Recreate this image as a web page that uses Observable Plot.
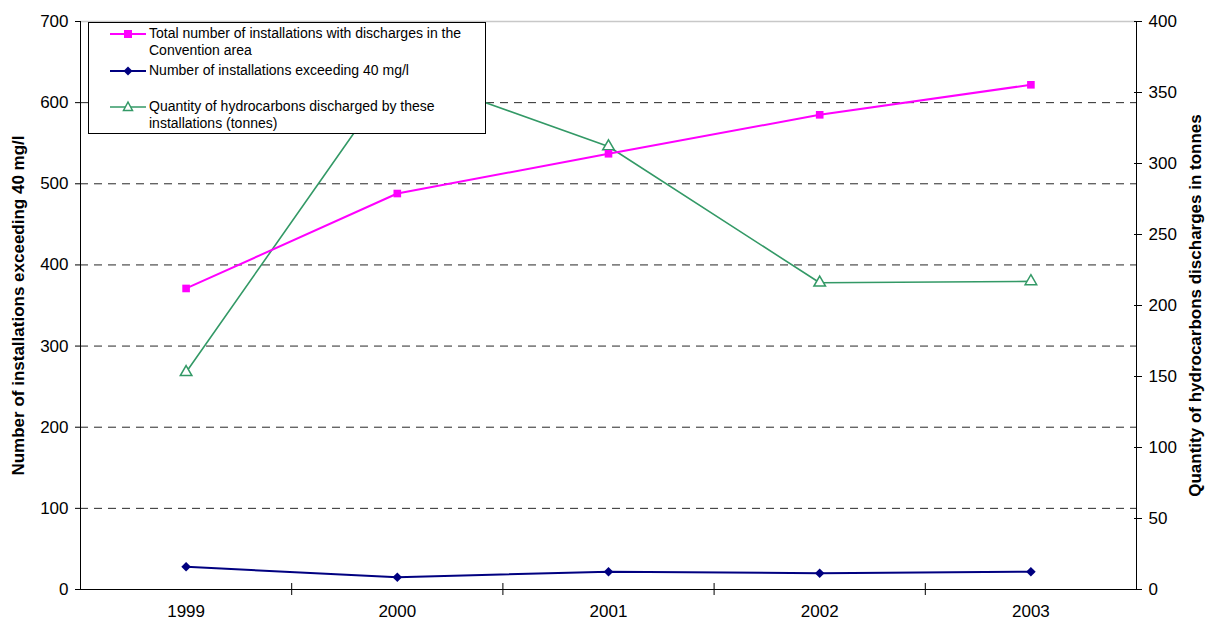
<!DOCTYPE html>
<html>
<head>
<meta charset="utf-8">
<script src="https://cdn.jsdelivr.net/npm/d3@7"></script>
<script src="https://cdn.jsdelivr.net/npm/@observablehq/plot@0.6"></script>
<style>
  html, body { margin: 0; padding: 0; background: #fff; }
  #wrap { position: relative; width: 1205px; height: 622px; font-family: "Liberation Sans", Arial, sans-serif; }
  #legend { position: absolute; left: 88px; top: 22px; width: 396px; height: 110px; border: 1px solid #000; background: #fff; font-size: 14px; color: #000; }
  .item { position: absolute; left: 0; }
  .item svg { position: absolute; left: 21px; }
  .item span { position: absolute; left: 60px; white-space: nowrap; line-height: 17px; }
</style>
</head>
<body>
<div id="wrap"></div>
<script>
const years = [1999, 2000, 2001, 2002, 2003];
const totalInstallations = [371, 488, 537, 585, 622];
const exceeding = [28, 15, 22, 20, 22];
const hydrocarbons = [153, 365, 312, 216, 217];
const leftTicks = [0, 100, 200, 300, 400, 500, 600, 700];
const gridValues = [100, 200, 300, 400, 500, 600];
const rightTicks = [0, 50, 100, 150, 200, 250, 300, 350, 400];
const boundaries = [1999.5, 2000.5, 2001.5, 2002.5];
const seriesNames = [
  "Total number of installations with discharges in the\nConvention area",
  "Number of installations exceeding 40 mg/l",
  "Quantity of hydrocarbons discharged by these\ninstallations (tonnes)"
];
const leftLabel = "Number of installations exceeding 40 mg/l";
const rightLabel = "Quantity of hydrocarbons discharges in tonnes";

const k = 700 / 400; // right axis -> left axis units
const pink = "#ff00ff", navy = "#000080", green = "#339966";

const tTotal = years.map((y, i) => ({year: y, v: totalInstallations[i]}));
const tExc = years.map((y, i) => ({year: y, v: exceeding[i]}));
const tHyd = years.map((y, i) => ({year: y, v: hydrocarbons[i] * k}));

const chart = Plot.plot({
  width: 1205,
  height: 622,
  marginLeft: 80,
  marginRight: 69,
  marginTop: 21,
  marginBottom: 33,
  x: {domain: [1998.5, 2003.5]},
  y: {domain: [0, 700]},
  style: {fontFamily: "'Liberation Sans', Arial, sans-serif", fontSize: "17px", color: "#000", background: "#fff"},
  marks: [
    Plot.ruleY(gridValues, {stroke: "#000", strokeDasharray: "8,6", strokeWidth: 1, strokeOpacity: 0.85}),
    Plot.ruleY([700], {stroke: "#c8c8c8", strokeWidth: 1.5}),
    Plot.ruleX([1998.5, 2003.5], {stroke: "#000"}),
    Plot.ruleY([0], {stroke: "#000"}),
    Plot.axisY({anchor: "left", ticks: leftTicks, tickSize: 5, tickPadding: 7, fontSize: 17, label: null}),
    Plot.axisY({anchor: "right", ticks: rightTicks.map(v => v * k), tickFormat: v => String(Math.round(v / k)), tickSize: 5, tickPadding: 7, fontSize: 17, label: null}),
    Plot.axisY({anchor: "right", ticks: rightTicks.map(v => v * k), tickFormat: () => "", tickSize: -3, label: null}),
    Plot.axisX({ticks: years, tickFormat: d => String(d), tickSize: 0, tickPadding: 15, fontSize: 17, label: null}),
    Plot.axisX({ticks: boundaries, tickFormat: () => "", tickSize: 6, label: null}),
    Plot.axisX({ticks: boundaries, tickFormat: () => "", tickSize: -6, label: null}),
    Plot.text([leftLabel], {frameAnchor: "left", dx: -62, rotate: -90, textAnchor: "middle", fontWeight: "bold", fontSize: 17}),
    Plot.text([rightLabel], {frameAnchor: "right", dx: 59, rotate: -90, textAnchor: "middle", fontWeight: "bold", fontSize: 17}),
    Plot.line(tHyd, {x: "year", y: "v", stroke: green, strokeWidth: 1.6}),
    Plot.dot(tHyd, {x: "year", y: "v", symbol: "triangle", r: 4.3, fill: "#fff", stroke: green, strokeWidth: 1.5}),
    Plot.line(tTotal, {x: "year", y: "v", stroke: pink, strokeWidth: 2}),
    Plot.dot(tTotal, {x: "year", y: "v", symbol: "square", r: 4.3, fill: pink}),
    Plot.line(tExc, {x: "year", y: "v", stroke: navy, strokeWidth: 2}),
    Plot.dot(tExc, {x: "year", y: "v", symbol: "diamond2", r: 4.3, fill: navy})
  ]
});
const wrap = document.getElementById("wrap");
wrap.appendChild(chart);

// Legend overlay
const legend = document.createElement("div");
legend.id = "legend";
const items = [
  {name: seriesNames[0], color: pink, shape: "square", top: 2, lineY: 9},
  {name: seriesNames[1], color: navy, shape: "diamond", top: 39, lineY: 9},
  {name: seriesNames[2], color: green, shape: "triangle", top: 75, lineY: 9}
];
items.forEach(it => {
  const d = document.createElement("div");
  d.className = "item";
  d.style.top = it.top + "px";
  const ns = "http://www.w3.org/2000/svg";
  const s = document.createElementNS(ns, "svg");
  s.setAttribute("width", 36); s.setAttribute("height", 18);
  s.style.top = "0px";
  const ln = document.createElementNS(ns, "line");
  ln.setAttribute("x1", 0); ln.setAttribute("x2", 36); ln.setAttribute("y1", it.lineY); ln.setAttribute("y2", it.lineY);
  ln.setAttribute("stroke", it.color); ln.setAttribute("stroke-width", it.shape === "triangle" ? 1.5 : 2);
  s.appendChild(ln);
  let m;
  if (it.shape === "square") {
    m = document.createElementNS(ns, "rect");
    m.setAttribute("x", 14); m.setAttribute("y", it.lineY - 4); m.setAttribute("width", 8); m.setAttribute("height", 8);
    m.setAttribute("fill", it.color);
  } else if (it.shape === "diamond") {
    m = document.createElementNS(ns, "path");
    m.setAttribute("d", `M18,${it.lineY-4.5}L22.5,${it.lineY}L18,${it.lineY+4.5}L13.5,${it.lineY}Z`);
    m.setAttribute("fill", it.color);
  } else {
    m = document.createElementNS(ns, "path");
    m.setAttribute("d", `M18,${it.lineY-5}L22.5,${it.lineY+3.5}L13.5,${it.lineY+3.5}Z`);
    m.setAttribute("fill", "#fff"); m.setAttribute("stroke", it.color); m.setAttribute("stroke-width", 1.5);
  }
  s.appendChild(m);
  d.appendChild(s);
  const sp = document.createElement("span");
  sp.style.top = "0px";
  sp.innerHTML = it.name.split("\n").join("<br>");
  d.appendChild(sp);
  legend.appendChild(d);
});
wrap.appendChild(legend);
</script>
</body>
</html>
